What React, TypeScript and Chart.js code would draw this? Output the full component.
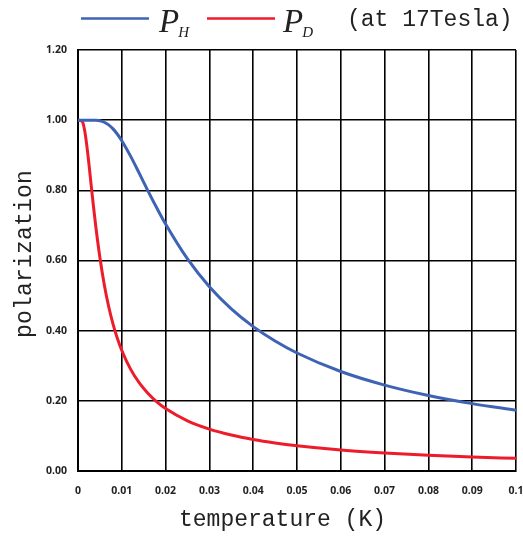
import React, { useEffect, useRef } from "react";
import { Chart, registerables } from "chart.js";

Chart.register(...registerables);

const temperatureK = [0, 0.001, 0.0015, 0.002, 0.0025, 0.003, 0.0035, 0.004, 0.005, 0.006, 0.007, 0.008, 0.009, 0.01, 0.012, 0.014, 0.016, 0.018, 0.02, 0.025, 0.03, 0.035, 0.04, 0.045, 0.05, 0.06, 0.07, 0.08, 0.09, 0.1];
const polarizationH = [1.0, 1.0, 1.0, 1.0, 1.0, 1.0, 0.9999, 0.9997, 0.9982, 0.9941, 0.9866, 0.9752, 0.9599, 0.9414, 0.8976, 0.8483, 0.7979, 0.7496, 0.7039, 0.6044, 0.5251, 0.4621, 0.4116, 0.3705, 0.3364, 0.2836, 0.2449, 0.2153, 0.192, 0.1732];
const polarizationD = [1.0, 0.9955, 0.972, 0.9288, 0.8746, 0.8157, 0.7576, 0.7033, 0.6083, 0.531, 0.469, 0.4188, 0.3777, 0.3435, 0.2903, 0.2509, 0.2209, 0.1971, 0.1778, 0.1429, 0.1194, 0.1025, 0.0897, 0.0798, 0.0719, 0.0599, 0.0514, 0.045, 0.04, 0.036];
const xTickLabels = ["0", "0.01", "0.02", "0.03", "0.04", "0.05", "0.06", "0.07", "0.08", "0.09", "0.1"];
const yTickLabels = ["0.00", "0.20", "0.40", "0.60", "0.80", "1.00", "1.20"];

const BLUE = "#3F63B4";
const RED = "#EE1C2A";
const TEXT = "#222";
const MONO = '23px "Liberation Mono"';

function drawMono(ctx: CanvasRenderingContext2D, text: string, x0: number, cy: number, cell: number) {
  for (let i = 0; i < text.length; i++) {
    ctx.fillText(text[i], x0 + i * cell + cell / 2, cy);
  }
}

const decorPlugin = {
  id: "decor",
  afterDraw(chart: any) {
    const ctx: CanvasRenderingContext2D = chart.ctx;
    ctx.save();
    ctx.fillStyle = TEXT;
    ctx.textAlign = "center";
    ctx.textBaseline = "middle";
    ctx.font = MONO;
    // x title
    drawMono(ctx, "temperature (K)", 179, 520, 13.8);
    // y title
    ctx.save();
    ctx.translate(25, 254);
    ctx.rotate(-Math.PI / 2);
    drawMono(ctx, "polarization", -84, 0, 14);
    ctx.restore();
    // legend lines
    ctx.lineWidth = 2.5;
    ctx.strokeStyle = BLUE;
    ctx.beginPath();
    ctx.moveTo(81, 18.5);
    ctx.lineTo(149, 18.5);
    ctx.stroke();
    ctx.strokeStyle = RED;
    ctx.beginPath();
    ctx.moveTo(207, 18.5);
    ctx.lineTo(275, 18.5);
    ctx.stroke();
    // legend symbols: P with subscript
    ctx.textAlign = "left";
    ctx.textBaseline = "alphabetic";
    const drawSym = (x: number, sub: string) => {
      ctx.font = 'italic 33px "Liberation Serif"';
      const w = ctx.measureText("P").width;
      ctx.fillText("P", x, 32);
      ctx.font = 'italic 15px "Liberation Serif"';
      ctx.fillText(sub, x + w - 1, 37);
    };
    drawSym(159, "H");
    drawSym(283, "D");
    ctx.textAlign = "center";
    ctx.textBaseline = "middle";
    ctx.font = MONO;
    drawMono(ctx, "(at 17Tesla)", 347, 20, 13.8);
    ctx.restore();
  },
};

export default function App() {
  const ref = useRef<HTMLCanvasElement | null>(null);
  useEffect(() => {
    if (!ref.current) return;
    const mk = (vals: number[]) => temperatureK.map((t, i) => ({ x: t, y: vals[i] }));
    const chart = new Chart(ref.current, {
      type: "scatter",
      data: {
        datasets: [
          { label: "P_H", data: mk(polarizationH), showLine: true, borderColor: BLUE, borderWidth: 3, pointRadius: 0, cubicInterpolationMode: "monotone" } as any,
          { label: "P_D", data: mk(polarizationD), showLine: true, borderColor: RED, borderWidth: 3, pointRadius: 0, cubicInterpolationMode: "monotone" } as any,
        ],
      },
      options: {
        responsive: false,
        animation: false,
        devicePixelRatio: 1,
        layout: { padding: { top: 50, right: 7, left: 0, bottom: 0 } },
        plugins: { legend: { display: false }, tooltip: { enabled: false } },
        scales: {
          x: {
            type: "linear",
            min: 0,
            max: 0.1,
            afterFit: (s: any) => { s.height = 67; s.paddingLeft = 0; s.paddingRight = 0; },
            grid: { color: "#000", lineWidth: 1.6, drawTicks: false },
            border: { color: "#000", width: 2 },
            ticks: {
              stepSize: 0.01,
              padding: 14,
              color: TEXT,
              font: { family: '"Open Sans"', size: 10.5, weight: "bold" },
              maxRotation: 0,
              autoSkip: false,
              callback: (_v: any, i: number) => xTickLabels[i],
            },
          },
          y: {
            type: "linear",
            min: 0,
            max: 1.2,
            afterFit: (s: any) => { s.width = 78; s.paddingTop = 0; s.paddingBottom = 0; },
            grid: { color: "#000", lineWidth: 1.6, drawTicks: false },
            border: { color: "#000", width: 2 },
            ticks: {
              stepSize: 0.2,
              padding: 11,
              color: TEXT,
              font: { family: '"Open Sans"', size: 10.5, weight: "bold" },
              callback: (_v: any, i: number) => yTickLabels[i],
            },
          },
        },
      },
      plugins: [decorPlugin],
    });
    return () => chart.destroy();
  }, []);
  return (
    <div style={{ position: "fixed", left: 0, top: 0, width: 523, height: 538, background: "#fff" }}>
      <canvas ref={ref} width={523} height={538} style={{ width: 523, height: 538, display: "block" }} />
    </div>
  );
}
